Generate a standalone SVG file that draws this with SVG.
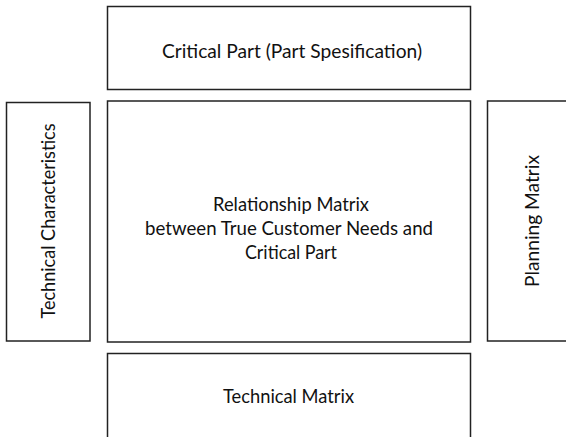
<svg xmlns="http://www.w3.org/2000/svg" width="566" height="437" viewBox="0 0 566 437">
<style>
.box{fill:#ffffff;stroke:#222222;stroke-width:1.5}
.lbl{font-family:Lato,"Open Sans","Liberation Sans",sans-serif;font-size:20px;fill:#111111;text-anchor:middle}
</style>
<rect width="566" height="437" fill="#ffffff"/>
<g id="critical-part">
<rect class="box" x="107.5" y="6.5" width="363" height="83"/>
<text class="lbl" x="292" y="58" textLength="260" lengthAdjust="spacingAndGlyphs">Critical Part (Part Spesification)</text>
</g>
<g id="relationship-matrix">
<rect class="box" x="107.5" y="101" width="363" height="241"/>
<text class="lbl" x="291" y="211" textLength="156" lengthAdjust="spacingAndGlyphs">Relationship Matrix</text>
<text class="lbl" x="289" y="235" textLength="288" lengthAdjust="spacingAndGlyphs">between True Customer Needs and</text>
<text class="lbl" x="291" y="259" textLength="92" lengthAdjust="spacingAndGlyphs">Critical Part</text>
</g>
<g id="technical-characteristics">
<rect class="box" x="6.5" y="102.5" width="83.5" height="238.5"/>
<text class="lbl" transform="translate(55,221) rotate(-90)" x="0" y="0" textLength="195" lengthAdjust="spacingAndGlyphs">Technical Characteristics</text>
</g>
<g id="planning-matrix">
<rect class="box" x="487.5" y="101" width="90" height="240"/>
<text class="lbl" transform="translate(539,221) rotate(-90)" x="0" y="0" textLength="132" lengthAdjust="spacingAndGlyphs">Planning Matrix</text>
</g>
<g id="technical-matrix">
<rect class="box" x="107.5" y="353.5" width="363" height="95"/>
<text class="lbl" x="288.5" y="402.5" textLength="131" lengthAdjust="spacingAndGlyphs">Technical Matrix</text>
</g>
<g id="connectors"></g>
</svg>
